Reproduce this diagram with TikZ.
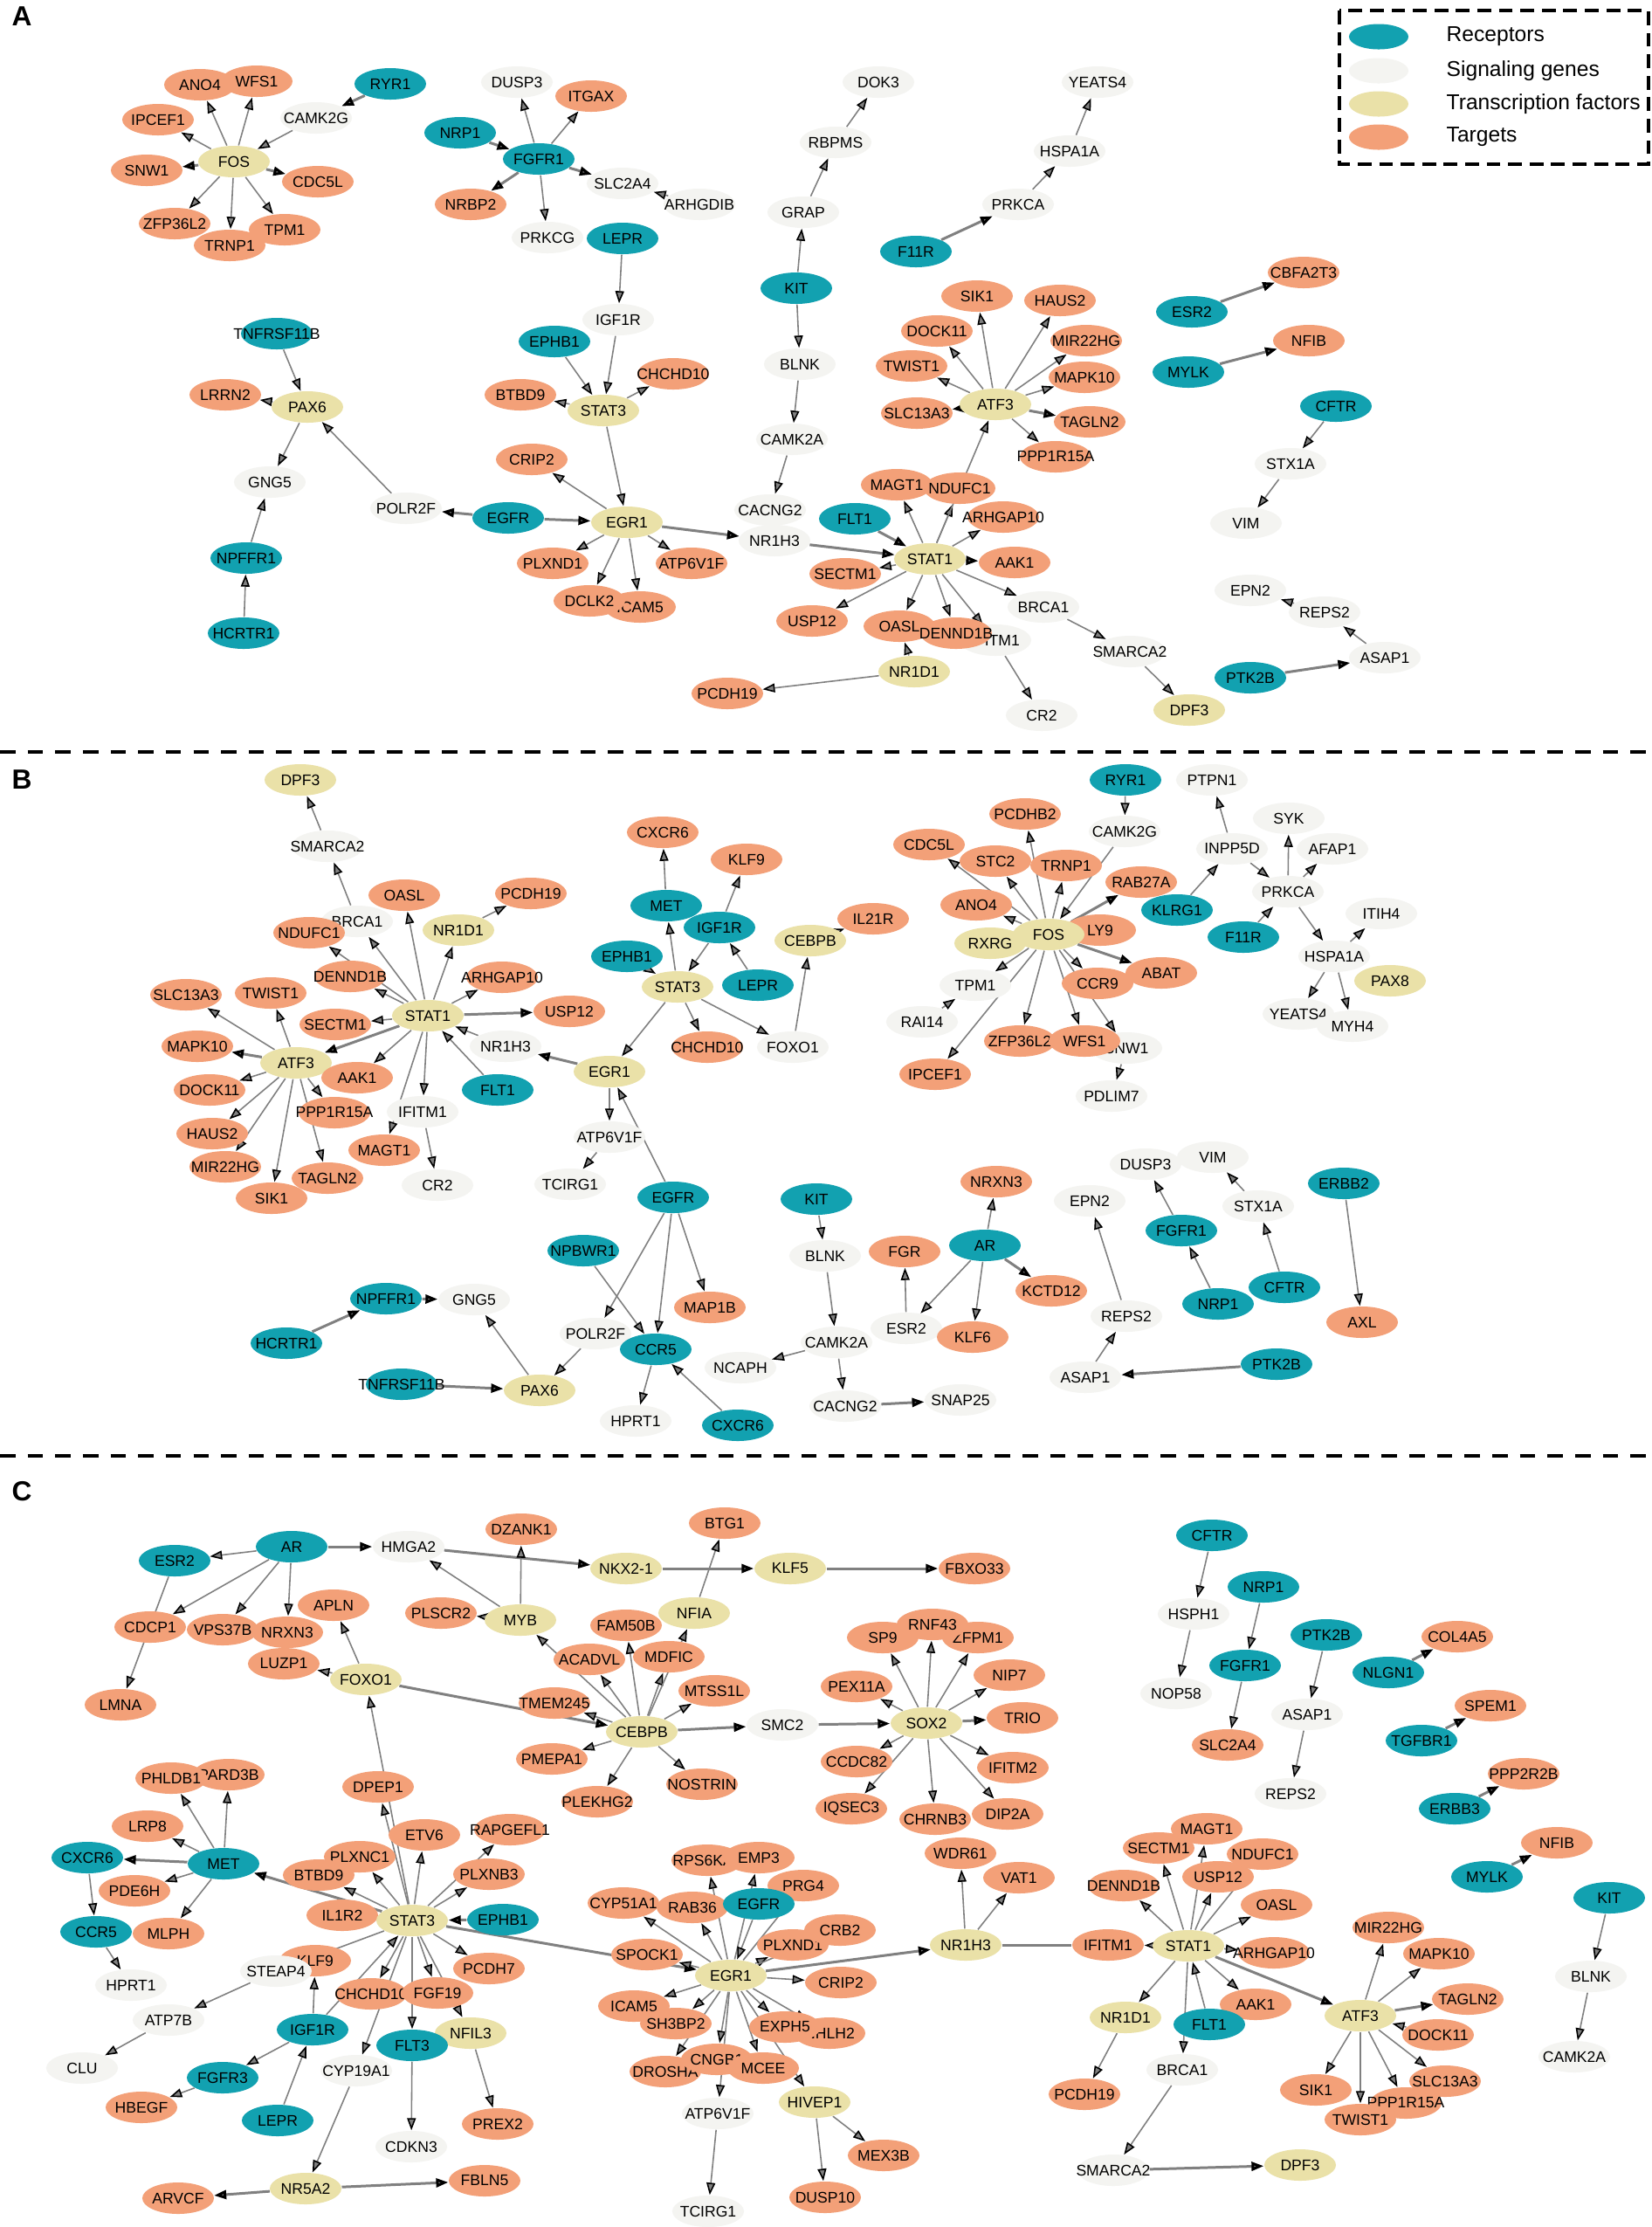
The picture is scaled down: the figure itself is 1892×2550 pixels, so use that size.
\documentclass[tikz,border=0pt]{standalone}
\usepackage{fontspec}
\setmainfont{Liberation Sans}
\usetikzlibrary{shapes.geometric,arrows.meta}
\definecolor{rcol}{RGB}{18,161,176}
\definecolor{scol}{RGB}{244,244,241}
\definecolor{tcol}{RGB}{234,225,168}
\definecolor{gcol}{RGB}{243,160,120}
\definecolor{ecol}{RGB}{128,128,128}
\pgfdeclarelayer{bg}
\pgfsetlayers{bg,main}
\begin{document}
\begin{tikzpicture}[x=0.01cm,y=-0.01cm,
  nd/.style={ellipse, minimum width=0.82cm, minimum height=0.36cm, inner xsep=-6mm, inner ysep=0pt, font=\fontsize{5}{6}\selectfont, text=black},
  rec/.style={nd, fill=rcol}, sig/.style={nd, fill=scol}, tf/.style={nd, fill=tcol}, tgt/.style={nd, fill=gcol},
  lk/.style={color=ecol, line width=0.45pt, -{Triangle[length=1.4mm,width=1mm,color=black]}},
  tk/.style={line width=0.85pt},
  leg/.style={ellipse, minimum width=0.68cm, minimum height=0.29cm, inner sep=0pt},
  legtext/.style={anchor=west, inner sep=0pt, font=\fontsize{7}{8}\selectfont},
  panel/.style={font=\bfseries\fontsize{9}{10}\selectfont},
  sep/.style={line width=1.4pt, dash pattern=on 5pt off 4pt}]

\useasboundingbox (0,0) rectangle (1892,2550);
\begin{pgfonlayer}{bg}
\fill[white] (0,0) rectangle (1892,2550);
\end{pgfonlayer}

\draw[sep] (0,861) -- (1892,861);
\draw[sep] (0,1667) -- (1892,1667);

% legend
\draw[line width=0.9pt, dash pattern=on 4.5pt off 2.5pt] (1534,12) rectangle (1888,188);
\node[leg, fill=rcol] (kr) at (1579,42) {};
\node[leg, fill=scol] (ks) at (1579,81) {};
\node[leg, fill=tcol] (kt) at (1579,119) {};
\node[leg, fill=gcol] (kg) at (1579,157) {};
\node[legtext] (krt) at (1656,42) {Receptors};
\node[legtext] (kst) at (1656,81) {Signaling genes};
\node[legtext] (ktt) at (1656,119) {Transcription factors};
\node[legtext] (kgt) at (1656,157) {Targets};

\node[panel] (labA) at (25,19) {A};
\node[panel] (labB) at (25,893) {B};
\node[panel] (labC) at (25,1708) {C};

% panel A
\node[rec] (aRYR1) at (447,96) {RYR1};
\node[sig] (aCAMK2G) at (362,135) {CAMK2G};
\node[tgt] (aANO4) at (229,97) {ANO4};
\node[tgt] (aWFS1) at (294,93) {WFS1};
\node[tgt] (aIPCEF1) at (181,137) {IPCEF1};
\node[tf] (aFOS) at (268,185) {FOS};
\node[tgt] (aSNW1) at (168,195) {SNW1};
\node[tgt] (aCDC5L) at (364,208) {CDC5L};
\node[tgt] (aZFP36L2) at (200,256) {ZFP36L2};
\node[tgt] (aTPM1) at (326,263) {TPM1};
\node[tgt] (aTRNP1) at (263,281) {TRNP1};
\node[sig] (aDUSP3) at (592,94) {DUSP3};
\node[tgt] (aITGAX) at (677,110) {ITGAX};
\node[rec] (aNRP1) at (527,152) {NRP1};
\node[rec] (aFGFR1) at (617,182) {FGFR1};
\node[sig] (aSLC2A4) at (713,210) {SLC2A4};
\node[sig] (aARHGDIB) at (801,234) {ARHGDIB};
\node[tgt] (aNRBP2) at (539,234) {NRBP2};
\node[sig] (aPRKCG) at (627,272) {PRKCG};
\node[rec] (aLEPR) at (713,273) {LEPR};
\node[sig] (aIGF1R) at (708,366) {IGF1R};
\node[rec] (aEPHB1) at (635,391) {EPHB1};
\node[tgt] (aCHCHD10) at (771,428) {CHCHD10};
\node[tgt] (aBTBD9) at (596,452) {BTBD9};
\node[tf] (aSTAT3) at (691,470) {STAT3};
\node[rec] (aKIT) at (912,330) {KIT};
\node[sig] (aGRAP) at (920,243) {GRAP};
\node[sig] (aRBPMS) at (957,163) {RBPMS};
\node[sig] (aDOK3) at (1006,94) {DOK3};
\node[sig] (aBLNK) at (916,417) {BLNK};
\node[sig] (aCAMK2A) at (907,503) {CAMK2A};
\node[sig] (aCACNG2) at (882,584) {CACNG2};
\node[sig] (aYEATS4) at (1257,94) {YEATS4};
\node[sig] (aHSPA1A) at (1225,173) {HSPA1A};
\node[sig] (aPRKCA) at (1166,234) {PRKCA};
\node[rec] (aF11R) at (1049,288) {F11R};
\node[tgt] (aCBFA2T3) at (1493,312) {CBFA2T3};
\node[rec] (aESR2) at (1365,357) {ESR2};
\node[tgt] (aNFIB) at (1499,390) {NFIB};
\node[rec] (aMYLK) at (1361,426) {MYLK};
\node[tgt] (aSIK1) at (1119,339) {SIK1};
\node[tgt] (aHAUS2) at (1214,344) {HAUS2};
\node[tgt] (aDOCK11) at (1073,379) {DOCK11};
\node[tgt] (aMIR22HG) at (1244,390) {MIR22HG};
\node[tgt] (aTWIST1) at (1044,419) {TWIST1};
\node[tgt] (aMAPK10) at (1242,432) {MAPK10};
\node[tgt] (aSLC13A3) at (1050,473) {SLC13A3};
\node[tf] (aATF3) at (1140,463) {ATF3};
\node[tgt] (aTAGLN2) at (1248,483) {TAGLN2};
\node[tgt] (aPPP1R15A) at (1209,523) {PPP1R15A};
\node[rec] (aCFTR) at (1530,465) {CFTR};
\node[sig] (aSTX1A) at (1478,531) {STX1A};
\node[sig] (aVIM) at (1427,599) {VIM};
\node[rec] (aTNFRSF11B) at (317,382) {TNFRSF11B};
\node[tgt] (aLRRN2) at (258,452) {LRRN2};
\node[tf] (aPAX6) at (352,466) {PAX6};
\node[sig] (aGNG5) at (309,552) {GNG5};
\node[sig] (aPOLR2F) at (465,582) {POLR2F};
\node[rec] (aEGFR) at (582,593) {EGFR};
\node[tf] (aEGR1) at (718,598) {EGR1};
\node[tgt] (aCRIP2) at (609,526) {CRIP2};
\node[sig] (aNR1H3) at (887,619) {NR1H3};
\node[rec] (aNPFFR1) at (282,639) {NPFFR1};
\node[tgt] (aPLXND1) at (633,645) {PLXND1};
\node[tgt] (aATP6V1F) at (792,645) {ATP6V1F};
\node[tgt] (aICAM5) at (733,695) {ICAM5};
\node[tgt] (aDCLK2) at (675,688) {DCLK2};
\node[rec] (aHCRTR1) at (279,725) {HCRTR1};
\node[tgt] (aMAGT1) at (1027,555) {MAGT1};
\node[tgt] (aNDUFC1) at (1099,559) {NDUFC1};
\node[tgt] (aARHGAP10) at (1149,592) {ARHGAP10};
\node[rec] (aFLT1) at (979,594) {FLT1};
\node[tf] (aSTAT1) at (1065,640) {STAT1};
\node[tgt] (aAAK1) at (1162,644) {AAK1};
\node[tgt] (aSECTM1) at (968,657) {SECTM1};
\node[tgt] (aUSP12) at (930,711) {USP12};
\node[tgt] (aOASL) at (1030,717) {OASL};
\node[sig] (aIFITM1) at (1140,733) {IFITM1};
\node[tgt] (aDENND1B) at (1095,725) {DENND1B};
\node[sig] (aBRCA1) at (1195,695) {BRCA1};
\node[sig] (aSMARCA2) at (1294,746) {SMARCA2};
\node[tf] (aNR1D1) at (1047,769) {NR1D1};
\node[tgt] (aPCDH19) at (833,794) {PCDH19};
\node[sig] (aCR2) at (1193,819) {CR2};
\node[tf] (aDPF3) at (1362,813) {DPF3};
\node[sig] (aEPN2) at (1432,676) {EPN2};
\node[sig] (aREPS2) at (1517,701) {REPS2};
\node[sig] (aASAP1) at (1586,753) {ASAP1};
\node[rec] (aPTK2B) at (1432,776) {PTK2B};

% panel B
\node[tf] (bDPF3) at (344,893) {DPF3};
\node[sig] (bSMARCA2) at (375,969) {SMARCA2};
\node[tgt] (bCXCR6) at (759,953) {CXCR6};
\node[tgt] (bKLF9) at (855,984) {KLF9};
\node[tgt] (bOASL) at (463,1025) {OASL};
\node[tgt] (bPCDH19) at (608,1023) {PCDH19};
\node[rec] (bMET) at (763,1037) {MET};
\node[sig] (bBRCA1) at (409,1055) {BRCA1};
\node[tf] (bNR1D1) at (525,1065) {NR1D1};
\node[tgt] (bNDUFC1) at (354,1068) {NDUFC1};
\node[rec] (bIGF1R) at (824,1062) {IGF1R};
\node[tgt] (bIL21R) at (1000,1052) {IL21R};
\node[tf] (bCEBPB) at (928,1077) {CEBPB};
\node[rec] (bEPHB1) at (718,1095) {EPHB1};
\node[tgt] (bDENND1B) at (401,1118) {DENND1B};
\node[tgt] (bARHGAP10) at (575,1119) {ARHGAP10};
\node[tf] (bSTAT3) at (776,1130) {STAT3};
\node[rec] (bLEPR) at (868,1128) {LEPR};
\node[tgt] (bSLC13A3) at (213,1139) {SLC13A3};
\node[tgt] (bTWIST1) at (310,1137) {TWIST1};
\node[tf] (bSTAT1) at (490,1163) {STAT1};
\node[tgt] (bUSP12) at (652,1158) {USP12};
\node[tgt] (bSECTM1) at (384,1173) {SECTM1};
\node[tgt] (bMAPK10) at (226,1198) {MAPK10};
\node[tf] (bATF3) at (339,1217) {ATF3};
\node[sig] (bNR1H3) at (579,1198) {NR1H3};
\node[tgt] (bCHCHD10) at (810,1199) {CHCHD10};
\node[sig] (bFOXO1) at (908,1199) {FOXO1};
\node[tf] (bEGR1) at (698,1227) {EGR1};
\node[tgt] (bAAK1) at (409,1234) {AAK1};
\node[tgt] (bDOCK11) at (240,1248) {DOCK11};
\node[rec] (bFLT1) at (570,1248) {FLT1};
\node[tgt] (bPPP1R15A) at (383,1274) {PPP1R15A};
\node[sig] (bIFITM1) at (484,1273) {IFITM1};
\node[tgt] (bHAUS2) at (243,1298) {HAUS2};
\node[tgt] (bMIR22HG) at (258,1336) {MIR22HG};
\node[tgt] (bTAGLN2) at (375,1349) {TAGLN2};
\node[tgt] (bSIK1) at (311,1372) {SIK1};
\node[tgt] (bMAGT1) at (440,1317) {MAGT1};
\node[sig] (bCR2) at (501,1357) {CR2};
\node[sig] (bATP6V1F) at (698,1302) {ATP6V1F};
\node[sig] (bTCIRG1) at (653,1356) {TCIRG1};
\node[rec] (bEGFR) at (771,1371) {EGFR};
\node[rec] (bKIT) at (935,1373) {KIT};
\node[rec] (bNPBWR1) at (668,1432) {NPBWR1};
\node[rec] (bNPFFR1) at (442,1487) {NPFFR1};
\node[sig] (bGNG5) at (543,1488) {GNG5};
\node[tgt] (bMAP1B) at (813,1497) {MAP1B};
\node[rec] (bHCRTR1) at (328,1538) {HCRTR1};
\node[sig] (bPOLR2F) at (682,1527) {POLR2F};
\node[rec] (bCCR5) at (751,1545) {CCR5};
\node[sig] (bNCAPH) at (848,1566) {NCAPH};
\node[rec] (bTNFRSF11B) at (460,1585) {TNFRSF11B};
\node[tf] (bPAX6) at (618,1592) {PAX6};
\node[sig] (bHPRT1) at (728,1627) {HPRT1};
\node[rec] (bCXCR6r) at (845,1632) {CXCR6};
\node[sig] (bBLNK) at (945,1438) {BLNK};
\node[sig] (bCAMK2A) at (958,1537) {CAMK2A};
\node[sig] (bCACNG2) at (968,1610) {CACNG2};
\node[sig] (bSNAP25) at (1100,1603) {SNAP25};
\node[tgt] (bFGR) at (1036,1433) {FGR};
\node[tgt] (bNRXN3) at (1141,1353) {NRXN3};
\node[rec] (bAR) at (1128,1426) {AR};
\node[tgt] (bKCTD12) at (1204,1478) {KCTD12};
\node[sig] (bESR2) at (1038,1521) {ESR2};
\node[tgt] (bKLF6) at (1114,1531) {KLF6};
\node[sig] (bEPN2) at (1248,1375) {EPN2};
\node[sig] (bREPS2) at (1290,1507) {REPS2};
\node[sig] (bASAP1) at (1243,1577) {ASAP1};
\node[rec] (bPTK2B) at (1462,1562) {PTK2B};
\node[sig] (bDUSP3) at (1312,1333) {DUSP3};
\node[sig] (bVIM) at (1389,1325) {VIM};
\node[rec] (bFGFR1) at (1353,1409) {FGFR1};
\node[rec] (bNRP1) at (1395,1493) {NRP1};
\node[sig] (bSTX1A) at (1441,1381) {STX1A};
\node[rec] (bCFTR) at (1471,1474) {CFTR};
\node[rec] (bERBB2) at (1539,1355) {ERBB2};
\node[tgt] (bAXL) at (1560,1514) {AXL};
\node[rec] (bRYR1) at (1289,893) {RYR1};
\node[sig] (bPTPN1) at (1388,893) {PTPN1};
\node[tgt] (bPCDHB2) at (1174,932) {PCDHB2};
\node[sig] (bSYK) at (1476,937) {SYK};
\node[sig] (bCAMK2G) at (1288,952) {CAMK2G};
\node[tgt] (bCDC5L) at (1064,967) {CDC5L};
\node[sig] (bINPP5D) at (1411,972) {INPP5D};
\node[sig] (bAFAP1) at (1526,972) {AFAP1};
\node[tgt] (bSTC2) at (1140,986) {STC2};
\node[tgt] (bTRNP1) at (1221,991) {TRNP1};
\node[tgt] (bRAB27A) at (1307,1010) {RAB27A};
\node[sig] (bPRKCA) at (1475,1021) {PRKCA};
\node[tgt] (bANO4) at (1118,1036) {ANO4};
\node[rec] (bKLRG1) at (1348,1042) {KLRG1};
\node[sig] (bITIH4) at (1582,1046) {ITIH4};
\node[tgt] (bLY9) at (1260,1065) {LY9};
\node[tf] (bRXRG) at (1134,1080) {RXRG};
\node[tf] (bFOS) at (1201,1070) {FOS};
\node[rec] (bF11R) at (1424,1073) {F11R};
\node[sig] (bHSPA1A) at (1528,1095) {HSPA1A};
\node[tf] (bPAX8) at (1592,1123) {PAX8};
\node[tgt] (bABAT) at (1330,1114) {ABAT};
\node[tgt] (bCCR9) at (1257,1126) {CCR9};
\node[sig] (bTPM1) at (1117,1128) {TPM1};
\node[sig] (bYEATS4) at (1487,1161) {YEATS4};
\node[sig] (bMYH4) at (1549,1175) {MYH4};
\node[sig] (bRAI14) at (1056,1170) {RAI14};
\node[tgt] (bZFP36L2) at (1168,1192) {ZFP36L2};
\node[sig] (bSNW1) at (1290,1200) {SNW1};
\node[tgt] (bWFS1) at (1242,1192) {WFS1};
\node[tgt] (bIPCEF1) at (1071,1230) {IPCEF1};
\node[sig] (bPDLIM7) at (1273,1255) {PDLIM7};

% panel C
\node[rec] (cAR) at (334,1771) {AR};
\node[sig] (cHMGA2) at (468,1771) {HMGA2};
\node[rec] (cESR2) at (200,1787) {ESR2};
\node[tgt] (cDZANK1) at (597,1751) {DZANK1};
\node[tgt] (cBTG1) at (830,1744) {BTG1};
\node[tf] (cNKX21) at (717,1796) {NKX2-1};
\node[tf] (cKLF5) at (905,1796) {KLF5};
\node[tgt] (cFBXO33) at (1116,1796) {FBXO33};
\node[tgt] (cAPLN) at (382,1838) {APLN};
\node[tgt] (cPLSCR2) at (505,1847) {PLSCR2};
\node[tf] (cMYB) at (596,1855) {MYB};
\node[tf] (cNFIA) at (795,1847) {NFIA};
\node[tgt] (cCDCP1) at (172,1863) {CDCP1};
\node[tgt] (cVPS37B) at (255,1866) {VPS37B};
\node[tgt] (cNRXN3) at (329,1869) {NRXN3};
\node[tgt] (cLUZP1) at (325,1905) {LUZP1};
\node[tgt] (cFAM50B) at (717,1861) {FAM50B};
\node[tgt] (cACADVL) at (675,1900) {ACADVL};
\node[tgt] (cMDFIC) at (766,1897) {MDFIC};
\node[tf] (cFOXO1) at (419,1923) {FOXO1};
\node[tgt] (cMTSS1L) at (818,1936) {MTSS1L};
\node[tgt] (cLMNA) at (138,1952) {LMNA};
\node[tgt] (cTMEM245) at (635,1950) {TMEM245};
\node[tf] (cCEBPB) at (735,1983) {CEBPB};
\node[sig] (cSMC2) at (896,1975) {SMC2};
\node[tgt] (cPMEPA1) at (632,2014) {PMEPA1};
\node[tgt] (cNOSTRIN) at (804,2043) {NOSTRIN};
\node[tgt] (cPLEKHG2) at (684,2063) {PLEKHG2};
\node[tgt] (cPARD3B) at (262,2032) {PARD3B};
\node[tgt] (cPHLDB1) at (196,2036) {PHLDB1};
\node[tgt] (cDPEP1) at (433,2046) {DPEP1};
\node[tgt] (cLRP8) at (169,2091) {LRP8};
\node[tgt] (cETV6) at (486,2101) {ETV6};
\node[tgt] (cRAPGEFL1) at (584,2095) {RAPGEFL1};
\node[tgt] (cSP9) at (1011,1875) {SP9};
\node[tgt] (cZFPM1) at (1120,1875) {ZFPM1};
\node[tgt] (cRNF43) at (1068,1860) {RNF43};
\node[tgt] (cNIP7) at (1156,1918) {NIP7};
\node[tgt] (cPEX11A) at (981,1931) {PEX11A};
\node[tf] (cSOX2) at (1061,1973) {SOX2};
\node[tgt] (cTRIO) at (1171,1967) {TRIO};
\node[tgt] (cCCDC82) at (981,2017) {CCDC82};
\node[tgt] (cIFITM2) at (1160,2024) {IFITM2};
\node[tgt] (cIQSEC3) at (975,2071) {IQSEC3};
\node[tgt] (cCHRNB3) at (1071,2083) {CHRNB3};
\node[tgt] (cDIP2A) at (1154,2077) {DIP2A};
\node[rec] (cCFTR) at (1388,1758) {CFTR};
\node[rec] (cNRP1) at (1447,1817) {NRP1};
\node[sig] (cHSPH1) at (1367,1848) {HSPH1};
\node[rec] (cPTK2B) at (1519,1872) {PTK2B};
\node[tgt] (cCOL4A5) at (1669,1874) {COL4A5};
\node[rec] (cFGFR1) at (1426,1907) {FGFR1};
\node[rec] (cNLGN1) at (1590,1915) {NLGN1};
\node[sig] (cNOP58) at (1347,1939) {NOP58};
\node[tgt] (cSPEM1) at (1707,1953) {SPEM1};
\node[sig] (cASAP1) at (1497,1963) {ASAP1};
\node[rec] (cTGFBR1) at (1628,1993) {TGFBR1};
\node[tgt] (cSLC2A4) at (1406,1998) {SLC2A4};
\node[tgt] (cPPP2R2B) at (1745,2031) {PPP2R2B};
\node[sig] (cREPS2) at (1478,2054) {REPS2};
\node[rec] (cERBB3) at (1666,2071) {ERBB3};
\node[tgt] (cNFIB) at (1783,2110) {NFIB};
\node[rec] (cMYLK) at (1703,2149) {MYLK};
\node[rec] (cKIT) at (1843,2173) {KIT};
\node[sig] (cBLNK) at (1822,2263) {BLNK};
\node[sig] (cCAMK2A) at (1803,2355) {CAMK2A};
\node[rec] (cCXCR6) at (100,2127) {CXCR6};
\node[rec] (cMET) at (256,2134) {MET};
\node[tgt] (cPDE6H) at (154,2165) {PDE6H};
\node[rec] (cCCR5) at (110,2212) {CCR5};
\node[tgt] (cMLPH) at (193,2214) {MLPH};
\node[sig] (cHPRT1) at (150,2273) {HPRT1};
\node[tgt] (cPLXNC1) at (412,2126) {PLXNC1};
\node[tgt] (cBTBD9) at (365,2147) {BTBD9};
\node[tgt] (cPLXNB3) at (560,2146) {PLXNB3};
\node[tgt] (cIL1R2) at (392,2193) {IL1R2};
\node[tf] (cSTAT3) at (472,2199) {STAT3};
\node[rec] (cEPHB1) at (576,2198) {EPHB1};
\node[tgt] (cKLF9) at (361,2245) {KLF9};
\node[sig] (cSTEAP4) at (316,2257) {STEAP4};
\node[tgt] (cPCDH7) at (560,2254) {PCDH7};
\node[tgt] (cCHCHD10) at (425,2283) {CHCHD10};
\node[tgt] (cFGF19) at (501,2282) {FGF19};
\node[sig] (cATP7B) at (193,2313) {ATP7B};
\node[rec] (cIGF1R) at (358,2324) {IGF1R};
\node[tf] (cNFIL3) at (539,2328) {NFIL3};
\node[rec] (cFLT3) at (472,2342) {FLT3};
\node[sig] (cCLU) at (94,2368) {CLU};
\node[sig] (cCYP19A1) at (408,2371) {CYP19A1};
\node[rec] (cFGFR3) at (255,2379) {FGFR3};
\node[tgt] (cHBEGF) at (162,2413) {HBEGF};
\node[rec] (cLEPR) at (318,2428) {LEPR};
\node[tgt] (cPREX2) at (570,2432) {PREX2};
\node[sig] (cCDKN3) at (471,2458) {CDKN3};
\node[tf] (cNR5A2) at (350,2506) {NR5A2};
\node[tgt] (cFBLN5) at (555,2497) {FBLN5};
\node[tgt] (cARVCF) at (204,2517) {ARVCF};
\node[tgt] (cRPS6KA) at (810,2130) {RPS6KA2};
\node[tgt] (cEMP3) at (869,2127) {EMP3};
\node[tgt] (cPRG4) at (920,2159) {PRG4};
\node[tgt] (cCYP51A1) at (714,2179) {CYP51A1};
\node[tgt] (cRAB36) at (793,2184) {RAB36};
\node[rec] (cEGFR) at (869,2180) {EGFR};
\node[tgt] (cPLXND1) at (908,2227) {PLXND1};
\node[tgt] (cCRB2) at (962,2210) {CRB2};
\node[tgt] (cSPOCK1) at (741,2238) {SPOCK1};
\node[tf] (cEGR1) at (837,2262) {EGR1};
\node[tgt] (cCRIP2) at (963,2270) {CRIP2};
\node[tgt] (cICAM5) at (726,2297) {ICAM5};
\node[tgt] (cSH3BP2) at (774,2317) {SH3BP2};
\node[tgt] (cNHLH2) at (950,2328) {NHLH2};
\node[tgt] (cEXPH5) at (899,2321) {EXPH5};
\node[tgt] (cDROSHA) at (762,2372) {DROSHA};
\node[tgt] (cCNGB1) at (821,2358) {CNGB1};
\node[tgt] (cMCEE) at (874,2368) {MCEE};
\node[tf] (cHIVEP1) at (933,2407) {HIVEP1};
\node[sig] (cATP6V1F) at (822,2420) {ATP6V1F};
\node[tgt] (cMEX3B) at (1012,2468) {MEX3B};
\node[tgt] (cDUSP10) at (945,2516) {DUSP10};
\node[sig] (cTCIRG1) at (811,2532) {TCIRG1};
\node[tgt] (cWDR61) at (1100,2122) {WDR61};
\node[tgt] (cVAT1) at (1167,2150) {VAT1};
\node[tf] (cNR1H3) at (1106,2227) {NR1H3};
\node[tgt] (cIFITM1) at (1269,2227) {IFITM1};
\node[tf] (cSTAT1) at (1361,2228) {STAT1};
\node[tgt] (cMAGT1) at (1382,2094) {MAGT1};
\node[tgt] (cSECTM1) at (1327,2116) {SECTM1};
\node[tgt] (cNDUFC1) at (1446,2123) {NDUFC1};
\node[tgt] (cUSP12) at (1395,2149) {USP12};
\node[tgt] (cDENND1B) at (1287,2159) {DENND1B};
\node[tgt] (cOASL) at (1462,2181) {OASL};
\node[tgt] (cARHGAP10) at (1459,2236) {ARHGAP10};
\node[tgt] (cAAK1) at (1438,2295) {AAK1};
\node[rec] (cFLT1) at (1385,2318) {FLT1};
\node[tf] (cNR1D1) at (1289,2310) {NR1D1};
\node[sig] (cBRCA1) at (1354,2370) {BRCA1};
\node[tgt] (cPCDH19) at (1242,2398) {PCDH19};
\node[sig] (cSMARCA2) at (1275,2485) {SMARCA2};
\node[tf] (cDPF3) at (1489,2479) {DPF3};
\node[tgt] (cMIR22HG) at (1590,2207) {MIR22HG};
\node[tgt] (cMAPK10) at (1648,2237) {MAPK10};
\node[tgt] (cTAGLN2) at (1681,2289) {TAGLN2};
\node[tf] (cATF3) at (1558,2308) {ATF3};
\node[tgt] (cDOCK11) at (1647,2330) {DOCK11};
\node[tgt] (cSLC13A3) at (1655,2383) {SLC13A3};
\node[tgt] (cSIK1) at (1507,2393) {SIK1};
\node[tgt] (cPPP1R15A) at (1610,2408) {PPP1R15A};
\node[tgt] (cTWIST1) at (1558,2427) {TWIST1};

\begin{pgfonlayer}{bg}
% edges A
\path[lk] (aRYR1) edge[tk] (aCAMK2G) (aCAMK2G) edge (aFOS);
\path[lk] (aFOS) edge (aANO4) edge (aWFS1) edge (aIPCEF1) edge[tk] (aSNW1) edge[tk] (aCDC5L) edge (aZFP36L2) edge (aTRNP1) edge (aTPM1);
\path[lk] (aNRP1) edge[tk] (aFGFR1) (aARHGDIB) edge (aSLC2A4);
\path[lk] (aFGFR1) edge (aDUSP3) edge (aITGAX) edge[tk] (aSLC2A4) edge[tk] (aNRBP2) edge (aPRKCG);
\path[lk] (aLEPR) edge (aIGF1R) (aIGF1R) edge (aSTAT3) (aEPHB1) edge (aSTAT3);
\path[lk] (aSTAT3) edge (aBTBD9) edge (aCHCHD10) edge (aEGR1);
\path[lk] (aKIT) edge (aGRAP) edge (aBLNK) (aGRAP) edge (aRBPMS) (aRBPMS) edge (aDOK3) (aBLNK) edge (aCAMK2A) (aCAMK2A) edge (aCACNG2);
\path[lk] (aF11R) edge[tk] (aPRKCA) (aPRKCA) edge (aHSPA1A) (aHSPA1A) edge (aYEATS4);
\path[lk] (aESR2) edge[tk] (aCBFA2T3) (aMYLK) edge[tk] (aNFIB) (aCFTR) edge (aSTX1A) (aSTX1A) edge (aVIM);
\path[lk] (aTNFRSF11B) edge (aPAX6) (aPAX6) edge (aLRRN2) edge (aGNG5) (aPOLR2F) edge (aPAX6) (aNPFFR1) edge (aGNG5) (aHCRTR1) edge (aNPFFR1);
\path[lk] (aEGFR) edge[tk] (aPOLR2F) edge[tk] (aEGR1);
\path[lk] (aEGR1) edge (aCRIP2) edge (aPLXND1) edge (aDCLK2) edge (aICAM5) edge (aATP6V1F) edge[tk] (aNR1H3) (aNR1H3) edge[tk] (aSTAT1) (aFLT1) edge[tk] (aSTAT1);
\path[lk] (aSTAT1) edge (aMAGT1) edge (aNDUFC1) edge (aATF3) edge (aARHGAP10) edge[tk] (aAAK1) edge (aSECTM1) edge (aUSP12) edge (aOASL) edge (aDENND1B) edge (aIFITM1) edge (aBRCA1);
\path[lk] (aATF3) edge (aSIK1) edge (aHAUS2) edge (aDOCK11) edge (aTWIST1) edge (aMIR22HG) edge (aMAPK10) edge[tk] (aSLC13A3) edge[tk] (aTAGLN2) edge (aPPP1R15A);
\path[lk] (aBRCA1) edge (aSMARCA2) (aSMARCA2) edge (aDPF3) (aIFITM1) edge (aCR2) (aNR1D1) edge (aOASL) edge (aPCDH19);
\path[lk] (aPTK2B) edge[tk] (aASAP1) (aASAP1) edge (aREPS2) (aREPS2) edge (aEPN2);
% edges B
\path[lk] (bSMARCA2) edge (bDPF3) (bBRCA1) edge (bSMARCA2) (bNR1D1) edge (bPCDH19);
\path[lk] (bSTAT1) edge (bBRCA1) edge (bOASL) edge (bNR1D1) edge (bNDUFC1) edge (bDENND1B) edge (bARHGAP10) edge[tk] (bUSP12) edge (bSECTM1) edge[tk] (bATF3) edge (bAAK1) edge (bIFITM1) edge (bMAGT1);
\path[lk] (bIFITM1) edge (bCR2) (bNR1H3) edge (bSTAT1) (bFLT1) edge (bSTAT1) (bEGR1) edge[tk] (bNR1H3);
\path[lk] (bATF3) edge (bSLC13A3) edge (bTWIST1) edge[tk] (bMAPK10) edge (bDOCK11) edge (bHAUS2) edge (bMIR22HG) edge (bSIK1) edge (bTAGLN2) edge (bPPP1R15A);
\path[lk] (bSTAT3) edge (bMET) edge (bCHCHD10) edge (bFOXO1) edge (bEGR1) (bMET) edge (bCXCR6) (bIGF1R) edge (bKLF9) edge (bSTAT3) (bLEPR) edge (bIGF1R) (bEPHB1) edge (bSTAT3) (bFOXO1) edge (bCEBPB) (bCEBPB) edge (bIL21R);
\path[lk] (bEGR1) edge (bATP6V1F) (bATP6V1F) edge (bTCIRG1) (bEGFR) edge (bEGR1) edge (bPOLR2F) edge (bCCR5) edge (bMAP1B) (bNPBWR1) edge (bCCR5) (bCCR5) edge (bHPRT1) (bCXCR6r) edge (bCCR5);
\path[lk] (bPOLR2F) edge (bPAX6) (bPAX6) edge (bGNG5) (bTNFRSF11B) edge[tk] (bPAX6) (bHCRTR1) edge[tk] (bNPFFR1) (bNPFFR1) edge[tk] (bGNG5);
\path[lk] (bKIT) edge (bBLNK) (bBLNK) edge (bCAMK2A) (bCAMK2A) edge (bNCAPH) edge (bCACNG2) (bCACNG2) edge[tk] (bSNAP25);
\path[lk] (bAR) edge (bNRXN3) edge (bESR2) edge (bKLF6) edge[tk] (bKCTD12) (bESR2) edge (bFGR);
\path[lk] (bPTK2B) edge[tk] (bASAP1) (bASAP1) edge (bREPS2) (bREPS2) edge (bEPN2);
\path[lk] (bNRP1) edge (bFGFR1) (bFGFR1) edge (bDUSP3) (bCFTR) edge (bSTX1A) (bSTX1A) edge (bVIM) (bERBB2) edge (bAXL);
\path[lk] (bRYR1) edge (bCAMK2G) (bCAMK2G) edge (bFOS);
\path[lk] (bFOS) edge (bCDC5L) edge (bSTC2) edge (bPCDHB2) edge (bTRNP1) edge (bANO4) edge[tk] (bRAB27A) edge[tk] (bABAT) edge (bCCR9) edge (bTPM1) edge (bZFP36L2) edge (bWFS1) edge (bSNW1) edge (bIPCEF1);
\path[lk] (bRAI14) edge (bTPM1) (bSNW1) edge (bPDLIM7);
\path[lk] (bKLRG1) edge (bINPP5D) (bINPP5D) edge (bPTPN1) edge (bPRKCA) (bF11R) edge (bPRKCA) (bPRKCA) edge (bSYK) edge (bAFAP1) edge (bHSPA1A) (bHSPA1A) edge (bITIH4) edge (bYEATS4) edge (bMYH4);
% edges C
\path[lk] (cAR) edge (cESR2) edge[tk] (cHMGA2) edge (cCDCP1) edge (cVPS37B) edge (cNRXN3) (cESR2) edge (cLMNA);
\path[lk] (cHMGA2) edge[tk] (cNKX21) (cNKX21) edge[tk] (cKLF5) (cKLF5) edge[tk] (cFBXO33);
\path[lk] (cMYB) edge (cHMGA2) edge (cDZANK1) edge (cPLSCR2) (cNFIA) edge (cBTG1);
\path[lk] (cCEBPB) edge (cMYB) edge (cACADVL) edge (cFAM50B) edge (cMDFIC) edge (cNFIA) edge (cMTSS1L) edge (cTMEM245) edge[tk] (cSMC2) edge (cPMEPA1) edge (cPLEKHG2) edge (cNOSTRIN);
\path[lk] (cFOXO1) edge[tk] (cCEBPB) edge (cAPLN) edge (cLUZP1) (cSMC2) edge[tk] (cSOX2);
\path[lk] (cSOX2) edge (cSP9) edge (cRNF43) edge (cZFPM1) edge (cNIP7) edge (cPEX11A) edge[tk] (cTRIO) edge (cCCDC82) edge (cIFITM2) edge (cIQSEC3) edge (cCHRNB3) edge (cDIP2A);
\path[lk] (cCFTR) edge (cHSPH1) (cHSPH1) edge (cNOP58) (cNRP1) edge (cFGFR1) (cFGFR1) edge (cSLC2A4) (cPTK2B) edge (cASAP1) (cASAP1) edge (cREPS2);
\path[lk] (cNLGN1) edge[tk] (cCOL4A5) (cTGFBR1) edge[tk] (cSPEM1) (cERBB3) edge[tk] (cPPP2R2B) (cMYLK) edge[tk] (cNFIB) (cKIT) edge (cBLNK) (cBLNK) edge (cCAMK2A);
\path[lk] (cMET) edge[tk] (cCXCR6) edge (cPHLDB1) edge (cPARD3B) edge (cLRP8) edge (cPDE6H) edge (cMLPH) (cCXCR6) edge (cCCR5) (cCCR5) edge (cHPRT1);
\path[lk] (cSTAT3) edge[tk] (cMET) edge (cFOXO1) edge (cDPEP1) edge (cBTBD9) edge (cPLXNC1) edge (cETV6) edge (cPLXNB3) edge (cRAPGEFL1) edge[tk] (cEGR1) edge (cPCDH7) edge (cFGF19) edge (cNFIL3) edge (cCHCHD10) edge (cFLT3) edge (cCYP19A1) edge (cSTEAP4);
\path[lk] (cEPHB1) edge[tk] (cSTAT3) (cIGF1R) edge (cSTAT3) edge (cKLF9) edge (cFGFR3) (cLEPR) edge (cIGF1R) (cFGFR3) edge (cHBEGF);
\path[lk] (cFLT3) edge (cCDKN3) (cNFIL3) edge (cPREX2) (cCYP19A1) edge (cNR5A2) (cNR5A2) edge[tk] (cARVCF) edge[tk] (cFBLN5) (cSTEAP4) edge (cATP7B) (cATP7B) edge (cCLU);
\path[lk] (cEGR1) edge (cSPOCK1) edge (cCYP51A1) edge (cRAB36) edge (cRPS6KA) edge (cEMP3) edge (cPRG4) edge (cPLXND1) edge (cCRB2) edge (cCRIP2) edge[tk] (cNR1H3) edge (cICAM5) edge (cSH3BP2) edge (cDROSHA) edge (cCNGB1) edge (cMCEE) edge (cEXPH5) edge (cNHLH2) edge (cATP6V1F) edge (cHIVEP1);
\path[lk] (cEGFR) edge (cEGR1) (cATP6V1F) edge (cTCIRG1) (cHIVEP1) edge (cMEX3B) edge (cDUSP10);
\path[lk] (cNR1H3) edge (cWDR61) edge (cVAT1) (cSTAT1) edge (cIFITM1);
\draw[color=ecol, line width=0.85pt] (cNR1H3) -- (cIFITM1);
\path[lk] (cSTAT1) edge (cDENND1B) edge (cSECTM1) edge (cMAGT1) edge (cUSP12) edge (cNDUFC1) edge (cOASL) edge (cARHGAP10) edge (cAAK1) edge[tk] (cATF3) edge (cNR1D1) edge (cBRCA1) (cFLT1) edge (cSTAT1);
\path[lk] (cBRCA1) edge (cSMARCA2) (cSMARCA2) edge[tk] (cDPF3) (cNR1D1) edge (cPCDH19);
\path[lk] (cATF3) edge (cMIR22HG) edge (cMAPK10) edge[tk] (cTAGLN2) edge (cSLC13A3) edge (cPPP1R15A) edge (cTWIST1) edge (cSIK1) (cDOCK11) edge (cATF3);
\end{pgfonlayer}
\end{tikzpicture}
\end{document}
